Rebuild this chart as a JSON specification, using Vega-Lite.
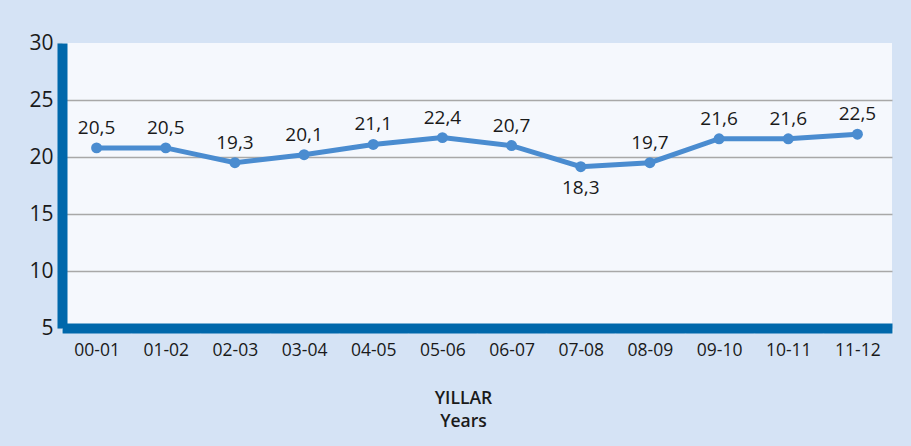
{
  "$schema": "https://vega.github.io/schema/vega-lite/v6.json",
  "width": 830,
  "height": 285,
  "autosize": {"type": "none"},
  "padding": {"left": 62, "top": 43, "right": 19, "bottom": 118},
  "background": "#d5e3f5",
  "config": {
    "view": {"fill": "#f5f8fd", "stroke": null},
    "font": "Open Sans"
  },
  "data": {
    "values": [
      {"period": "00-01", "value": 20.8, "label": "20,5"},
      {"period": "01-02", "value": 20.8, "label": "20,5"},
      {"period": "02-03", "value": 19.5, "label": "19,3"},
      {"period": "03-04", "value": 20.2, "label": "20,1"},
      {"period": "04-05", "value": 21.1, "label": "21,1"},
      {"period": "05-06", "value": 21.7, "label": "22,4"},
      {"period": "06-07", "value": 21.0, "label": "20,7"},
      {"period": "07-08", "value": 19.15, "label": "18,3"},
      {"period": "08-09", "value": 19.5, "label": "19,7"},
      {"period": "09-10", "value": 21.6, "label": "21,6"},
      {"period": "10-11", "value": 21.6, "label": "21,6"},
      {"period": "11-12", "value": 22.0, "label": "22,5"}
    ]
  },
  "encoding": {
    "x": {
      "field": "period",
      "type": "nominal",
      "sort": null,
      "scale": {"type": "band", "paddingInner": 0, "paddingOuter": 0},
      "axis": {
        "title": ["YILLAR", "Years"],
        "titleFontSize": 17.5,
        "titleFontWeight": 600,
        "titleColor": "#1a1a1a",
        "titleLineHeight": 23,
        "titlePadding": 31,
        "titleX": 401,
        "labelAngle": 0,
        "labelFontSize": 17.5,
        "labelColor": "#1a1a1a",
        "labelPadding": 8,
        "tickBand": "extent",
        "tickColor": "#ffffff",
        "tickSize": 5,
        "tickWidth": 1.5,
        "domainColor": "#0068ab",
        "domainWidth": 10,
        "grid": false
      }
    },
    "y": {
      "field": "value",
      "type": "quantitative",
      "scale": {"domain": [5, 30], "nice": false, "zero": false},
      "axis": {
        "title": null,
        "values": [5, 10, 15, 20, 25, 30],
        "labelFontSize": 21,
        "labelColor": "#1a1a1a",
        "labelPadding": 4,
        "tickColor": "#c8d4e0",
        "tickSize": 5,
        "tickWidth": 1.5,
        "domainColor": "#0068ab",
        "domainWidth": 10,
        "grid": true,
        "gridColor": "#a8a8a8",
        "gridWidth": 1.5,
        "gridOpacity": {"condition": {"test": "datum.value == 30 || datum.value == 5", "value": 0}, "value": 1}
      }
    }
  },
  "layer": [
    {
      "mark": {"type": "line", "color": "#4a8cd0", "strokeWidth": 5}
    },
    {
      "mark": {"type": "point", "filled": true, "opacity": 1, "color": "#4a8cd0", "size": 120}
    },
    {
      "transform": [{"filter": "datum.period != '07-08'"}],
      "mark": {"type": "text", "fontSize": 19, "color": "#1a1a1a", "baseline": "alphabetic", "dy": -14}
    ,
      "encoding": {"text": {"field": "label"}}
    },
    {
      "transform": [{"filter": "datum.period == '07-08'"}],
      "mark": {"type": "text", "fontSize": 19, "color": "#1a1a1a", "baseline": "alphabetic", "dy": 27},
      "encoding": {"text": {"field": "label"}}
    }
  ]
}
